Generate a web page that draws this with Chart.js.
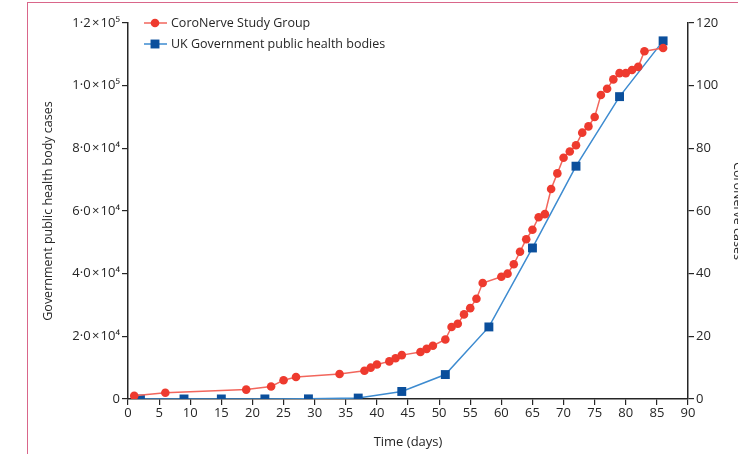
<!DOCTYPE html>
<html lang="en">
	<head>
		<meta charset="utf-8">
		<title>CoroNerve vs UK Government cases</title>
		<style>
			html, body {
				margin: 0;
				padding: 0;
				background-color: #FFF;
				overflow: hidden;
			}
			#frame {
				position: absolute;
				left: 27px;
				top: 2px;
				width: 760px;
				height: 500px;
				border-left: 1.5px solid #d9668a;
				border-top: 1.5px solid #d9668a;
			}
			#wrap {
				position: absolute;
				left: 0;
				top: 0;
				width: 738px;
				height: 454px;
			}
		</style>
		<script src="https://cdn.jsdelivr.net/npm/chart.js"></script>
	</head>
	<body>
		<div id="frame"></div>
		<div id="wrap"><canvas id="cases" width="738" height="454"></canvas></div>
		<script>
			// CoroNerve Study Group (right axis)
			const redDays = [1, 6, 19, 23, 25, 27, 34, 38, 39, 40, 42, 43, 44, 47, 48, 49, 51, 52, 53, 54, 55, 56, 57, 60, 61, 62, 63, 64, 65, 66, 67, 68, 69, 70, 71, 72, 73, 74, 75, 76, 77, 78, 79, 80, 81, 82, 83, 86];
			const redCases = [1, 2, 3, 4, 6, 7, 8, 9, 10, 11, 12, 13, 14, 15, 16, 17, 19, 23, 24, 27, 29, 32, 37, 39, 40, 43, 47, 51, 54, 58, 59, 67, 72, 77, 79, 81, 85, 87, 90, 97, 99, 102, 104, 104, 105, 106, 111, 112];

			// UK Government public health bodies (left axis)
			const govDays = [2, 9, 15, 22, 29, 37, 44, 51, 58, 65, 72, 79, 86];
			const govCases = [2, 9, 13, 20, 40, 300, 2400, 7800, 23000, 48200, 74300, 96500, 114300];

			const xTicks = [0, 90, 5];
			const leftTicks = [0, 120000, 20000];
			const rightTicks = [0, 120, 20];

			const FONT = "'Open Sans', 'Noto Sans', sans-serif";
			const INK = "#262626";
			const RED = "#ee3a2e";
			const RED_LINE = "#f2665c";
			const BLUE = "#0b4f9c";
			const BLUE_LINE = "#3d8bd0";

			const sup = {4: "\u2074", 5: "\u2075"};
			function sciLabel(v) {
				if (v === 0) return "0";
				const exp = Math.floor(Math.log10(v));
				const m = v / Math.pow(10, exp);
				return m.toFixed(1).replace(".", "\u00B7") + "\u200A\u00D7\u200A10" + sup[exp];
			}

			function points(xs, ys) {
				return xs.map((x, i) => ({x: x, y: ys[i]}));
			}

			// legend drawn as line + marker, like the printed figure
			const lineLegend = {
				id: "lineLegend",
				afterDraw(chart) {
					const ctx = chart.ctx;
					const area = chart.chartArea;
					const x0 = area.left + 16;
					let y = area.top;
					ctx.save();
					chart.data.datasets.forEach(ds => {
						ctx.strokeStyle = ds.borderColor;
						ctx.lineWidth = 1.5;
						ctx.beginPath();
						ctx.moveTo(x0, y);
						ctx.lineTo(x0 + 23, y);
						ctx.stroke();
						ctx.fillStyle = ds.pointBackgroundColor;
						ctx.strokeStyle = ds.pointBackgroundColor;
						Chart.helpers.drawPoint(ctx, {pointStyle: ds.pointStyle, radius: ds.pointRadius, borderWidth: 0}, x0 + 11, y);
						ctx.fillStyle = INK;
						ctx.font = "12.5px " + FONT;
						ctx.textBaseline = "middle";
						ctx.fillText(ds.label, x0 + 27, y);
						y += 21;
					});
					ctx.restore();
				}
			};

			const axisGrid = {
				drawOnChartArea: false,
				drawTicks: true,
				tickLength: 6,
				color: INK,
				lineWidth: 1.2
			};
			const axisBorder = {display: true, color: INK, width: 1.5};
			const tickFont = {family: FONT, size: 13};

			const config = {
				type: "line",
				data: {
					datasets: [{
						label: "CoroNerve Study Group",
						data: points(redDays, redCases),
						yAxisID: "yRight",
						borderColor: RED_LINE,
						borderWidth: 1.5,
						pointStyle: "circle",
						pointRadius: 4.3,
						pointBorderWidth: 0,
						pointBackgroundColor: RED,
						pointHoverRadius: 4.3,
						tension: 0
					},{
						label: "UK Government public health bodies",
						data: points(govDays, govCases),
						yAxisID: "yLeft",
						borderColor: BLUE_LINE,
						borderWidth: 1.5,
						pointStyle: "rect",
						pointRadius: 6.3,
						pointBorderWidth: 0,
						pointBackgroundColor: BLUE,
						pointHoverRadius: 6.3,
						tension: 0
					}]
				},
				options: {
					responsive: false,
					animation: false,
					events: [],
					layout: {padding: {top: 23, left: 0, right: 0, bottom: 0}},
					plugins: {
						legend: {display: false},
						tooltip: {enabled: false}
					},
					scales: {
						x: {
							type: "linear",
							min: xTicks[0],
							max: xTicks[1],
							grid: axisGrid,
							border: axisBorder,
							ticks: {stepSize: xTicks[2], color: INK, font: tickFont, padding: 0, maxRotation: 0, autoSkip: false},
							title: {display: true, text: "Time (days)", color: INK, font: {family: FONT, size: 13}, padding: {top: 0, bottom: 4}},
							afterFit(scale) { scale.height = 55; }
						},
						yLeft: {
							type: "linear",
							position: "left",
							min: leftTicks[0],
							max: leftTicks[1],
							grid: axisGrid,
							border: axisBorder,
							ticks: {stepSize: leftTicks[2], color: INK, font: tickFont, padding: 2, callback: v => sciLabel(v)},
							title: {display: true, text: "Government public health body cases", color: INK, font: {family: FONT, size: 12.5}, padding: {top: 41, bottom: 0}},
							afterFit(scale) { scale.width = 128; }
						},
						yRight: {
							type: "linear",
							position: "right",
							min: rightTicks[0],
							max: rightTicks[1],
							grid: axisGrid,
							border: axisBorder,
							ticks: {stepSize: rightTicks[2], color: INK, font: tickFont, padding: 2},
							title: {display: true, text: "CoroNerve cases", color: INK, font: {family: FONT, size: 12.5}, padding: {top: -7, bottom: 0}},
							afterFit(scale) { scale.width = 50; }
						}
					}
				},
				plugins: [lineLegend]
			};

			new Chart(document.getElementById("cases"), config);
		</script>
	</body>
</html>
